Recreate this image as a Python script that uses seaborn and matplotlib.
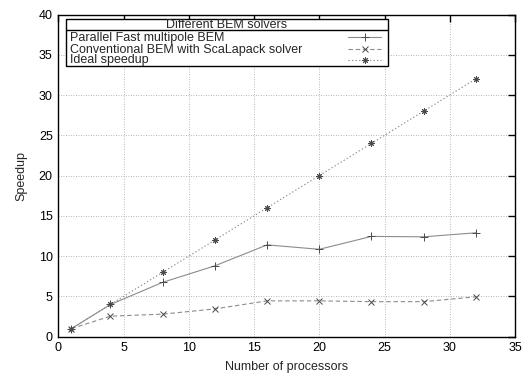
import matplotlib
matplotlib.use("Agg")
import matplotlib.pyplot as plt
import seaborn as sns
import numpy as np
from matplotlib.lines import Line2D
from matplotlib.patches import Rectangle

processors = [1, 4, 8, 12, 16, 20, 24, 28, 32]
fmm_speedup = [1.0, 4.0, 6.75, 8.8, 11.4, 10.85, 12.45, 12.4, 12.9]
scalapack_speedup = [1.0, 2.55, 2.8, 3.45, 4.45, 4.45, 4.35, 4.35, 4.95]
ideal_speedup = [1, 4, 8, 12, 16, 20, 24, 28, 32]
series_labels = ["Parallel Fast multipole BEM",
                 "Conventional BEM with ScaLapack solver",
                 "Ideal speedup"]
legend_title = "Different BEM solvers"
x_ticks = [0, 5, 10, 15, 20, 25, 30, 35]
y_ticks = [0, 5, 10, 15, 20, 25, 30, 35, 40]

sns.set_theme(style="white")
plt.rcParams['font.family'] = ['Liberation Sans', 'DejaVu Sans']
plt.rcParams['font.size'] = 9

W, H = 524, 373
fig = plt.figure(figsize=(W / 100, H / 100), dpi=100)
ax = fig.add_axes([58.3 / W, 1 - 336.7 / H, (515 - 58.3) / W, (336.7 - 14.5) / H])

line_col = "#8c8c8c"
mk_col = "#4a4a4a"
styles = [
    dict(linestyle="-", marker="+", markersize=5.5),
    dict(linestyle=(0, (4, 2.5)), marker="x", markersize=4),
    dict(linestyle=(0, (1.2, 2)), marker=(8, 2, 0), markersize=4.5),
]
for yv, st in zip([fmm_speedup, scalapack_speedup, ideal_speedup], styles):
    sns.lineplot(x=processors, y=yv, ax=ax, color=line_col, linewidth=0.8,
                 markeredgecolor=mk_col, markeredgewidth=0.7, **st)

ax.set_xlim(0, 35)
ax.set_ylim(0, 40)
ax.set_xticks(x_ticks)
ax.set_yticks(y_ticks)
ax.tick_params(direction="in", length=5, width=1, top=True, right=True,
               labelsize=9, colors="black", pad=4)
ax.tick_params(axis="x", labeltop=False)
ax.tick_params(axis="y", labelright=False)
ax.grid(True, linestyle=(0, (1, 2)), color="#a0a0a0", linewidth=0.6)
for s in ax.spines.values():
    s.set_visible(True)
    s.set_color("black")
    s.set_linewidth(1)
ax.set_xlabel("Number of processors", fontsize=9, labelpad=5)
ax.set_ylabel("Speedup", fontsize=9, labelpad=8)

# gnuplot-style key box
def fx(px):
    return px / W

def fy(py):
    return 1 - py / H

L, R, T, B, SEP = 65.7, 388, 19.3, 66.0, 30.0
fig.patches.append(Rectangle((fx(L), fy(B)), fx(R) - fx(L), fy(T) - fy(B),
                             transform=fig.transFigure, facecolor="white",
                             edgecolor="black", linewidth=1, zorder=5))
fig.lines.append(Line2D([fx(L), fx(R)], [fy(SEP), fy(SEP)],
                        transform=fig.transFigure, color="black", linewidth=1, zorder=6))
fig.text(fx((L + R) / 2), fy(28.5), legend_title, ha="center", va="baseline",
         fontsize=9, zorder=7)
baselines = [41.5, 52.5, 63.0]
samples = [37.3, 49.0, 60.0]
for lab, st, bl, sy in zip(series_labels, styles, baselines, samples):
    fig.text(fx(69.5), fy(bl), lab, ha="left", va="baseline", fontsize=9, zorder=7)
    fig.lines.append(Line2D([fx(348), fx(381)], [fy(sy), fy(sy)],
                            transform=fig.transFigure, color=line_col,
                            linewidth=0.8, linestyle=st["linestyle"], zorder=7))
    fig.lines.append(Line2D([fx(364.5)], [fy(sy)], transform=fig.transFigure,
                            linestyle="none", marker=st["marker"],
                            markersize=st["markersize"], markeredgecolor=mk_col,
                            markeredgewidth=0.7, zorder=8))

fig.savefig("out.png", dpi=100, facecolor="white")
